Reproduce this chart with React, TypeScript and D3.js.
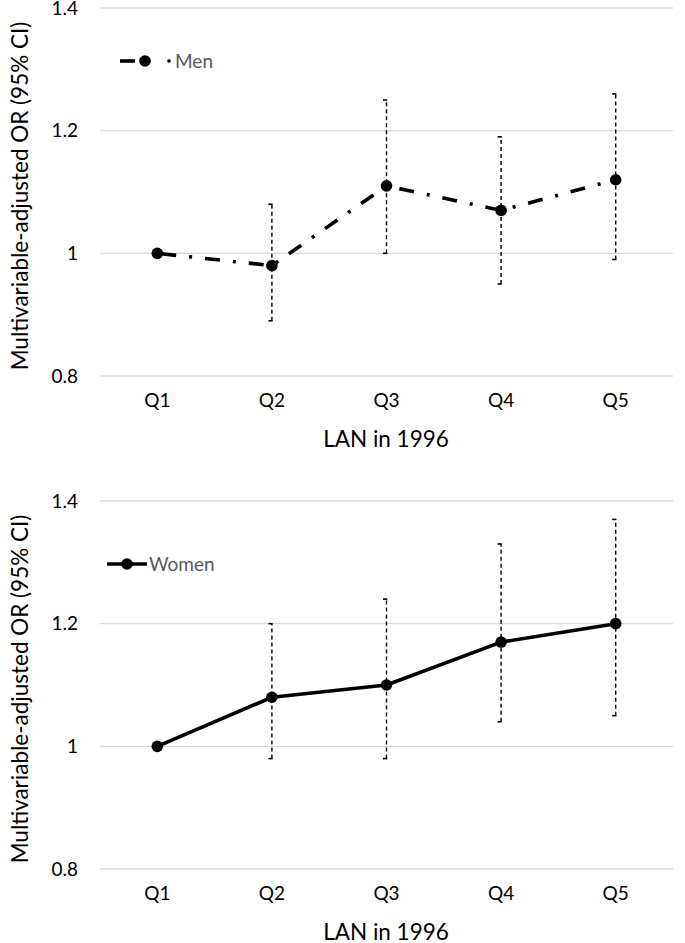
import { useEffect, useRef } from 'react'
import * as d3 from 'd3'

const quintiles = ['Q1', 'Q2', 'Q3', 'Q4', 'Q5']
const yTicks = [0.8, 1, 1.2, 1.4]

const menOR = [1.0, 0.98, 1.11, 1.07, 1.12]
const menLow = [null, 0.89, 1.0, 0.95, 0.99]
const menHigh = [null, 1.08, 1.25, 1.19, 1.26]

const womenOR = [1.0, 1.08, 1.1, 1.17, 1.2]
const womenLow = [null, 0.98, 0.98, 1.04, 1.05]
const womenHigh = [null, 1.2, 1.24, 1.33, 1.37]

const W = 685
const H = 943
const FONT = 'Lato, "Liberation Sans", sans-serif'

interface Panel {
  label: string
  or: number[]
  low: (number | null)[]
  high: (number | null)[]
  top: number
  bottom: number
  dash: string | null
  legendX: number
  legendY: number
}

const panels: Panel[] = [
  { label: 'Men', or: menOR, low: menLow, high: menHigh, top: 8, bottom: 376, dash: '15 13 3 13', legendX: 120, legendY: 61 },
  { label: 'Women', or: womenOR, low: womenLow, high: womenHigh, top: 501, bottom: 869, dash: null, legendX: 107, legendY: 564 }
]

export default function App() {
  const svgRef = useRef<SVGSVGElement>(null)

  useEffect(() => {
    if (!svgRef.current) return
    const svg = d3.select(svgRef.current)
    svg.selectAll('*').remove()

    const x = d3.scaleBand().domain(quintiles).range([100, 673])

    panels.forEach(p => {
      const y = d3.scaleLinear().domain([0.8, 1.4]).range([p.bottom, p.top])
      const g = svg.append('g')
      const cx = (q: string) => (x(q) || 0) + x.bandwidth() / 2

      // gridlines
      g.selectAll('.grid')
        .data(yTicks)
        .enter().append('line')
        .attr('x1', 100).attr('x2', 673)
        .attr('y1', d => y(d)).attr('y2', d => y(d))
        .attr('stroke', '#d9d9d9').attr('stroke-width', 1.3)

      // y tick labels
      g.selectAll('.ytick')
        .data(yTicks)
        .enter().append('text')
        .attr('x', 78).attr('y', d => y(d))
        .attr('dy', '0.35em')
        .attr('text-anchor', 'end')
        .attr('font-family', FONT).attr('font-size', 19)
        .attr('fill', '#000')
        .text(d => String(d))

      // x tick labels
      g.selectAll('.xtick')
        .data(quintiles)
        .enter().append('text')
        .attr('x', d => cx(d)).attr('y', p.bottom + 31)
        .attr('text-anchor', 'middle')
        .attr('font-family', FONT).attr('font-size', 19)
        .attr('fill', '#000')
        .text(d => d)

      // axis titles
      g.append('text')
        .attr('x', 386).attr('y', p.bottom + 71)
        .attr('text-anchor', 'middle')
        .attr('font-family', FONT).attr('font-size', 22.5)
        .attr('fill', '#000')
        .text('LAN in 1996')

      g.append('text')
        .attr('transform', `translate(28,${(p.top + p.bottom) / 2 + 4}) rotate(-90)`)
        .attr('text-anchor', 'middle')
        .attr('font-family', FONT).attr('font-size', 22.5)
        .attr('fill', '#000')
        .text('Multivariable-adjusted OR (95% CI)')

      // error bars
      const ci = quintiles.map((q, i) => ({ q, lo: p.low[i], hi: p.high[i] })).filter(d => d.lo != null)
      g.selectAll('.ci')
        .data(ci)
        .enter().append('line')
        .attr('x1', d => cx(d.q)).attr('x2', d => cx(d.q))
        .attr('y1', d => y(d.lo as number)).attr('y2', d => y(d.hi as number))
        .attr('stroke', '#000').attr('stroke-width', 1.4)
        .attr('stroke-dasharray', '4 3')
      ci.forEach(d => {
        [d.lo as number, d.hi as number].forEach(v => {
          g.append('line')
            .attr('x1', cx(d.q) - 3.5).attr('x2', cx(d.q) + 0.7)
            .attr('y1', y(v)).attr('y2', y(v))
            .attr('stroke', '#000').attr('stroke-width', 1.6)
        })
      })

      // line
      const line = d3.line<number>()
        .x((_, i) => cx(quintiles[i]))
        .y(d => y(d))
      const path = g.append('path')
        .datum(p.or)
        .attr('d', line)
        .attr('fill', 'none')
        .attr('stroke', '#000')
        .attr('stroke-width', 3.6)
        .attr('stroke-linejoin', 'round')
      if (p.dash) path.attr('stroke-dasharray', p.dash).attr('stroke-dashoffset', -4)

      // markers
      g.selectAll('.pt')
        .data(p.or)
        .enter().append('circle')
        .attr('cx', (_, i) => cx(quintiles[i]))
        .attr('cy', d => y(d))
        .attr('r', 5.8)
        .attr('fill', '#000')

      // legend
      const lg = g.append('g')
      if (p.dash) {
        lg.append('line')
          .attr('x1', p.legendX).attr('x2', p.legendX + 15)
          .attr('y1', p.legendY).attr('y2', p.legendY)
          .attr('stroke', '#000').attr('stroke-width', 3.6)
        lg.append('circle').attr('cx', p.legendX + 25).attr('cy', p.legendY).attr('r', 5.8).attr('fill', '#000')
        lg.append('circle').attr('cx', p.legendX + 49).attr('cy', p.legendY).attr('r', 1.8).attr('fill', '#000')
        lg.append('text')
          .attr('x', p.legendX + 55).attr('y', p.legendY).attr('dy', '0.35em')
          .attr('font-family', FONT).attr('font-size', 19).attr('fill', '#595959')
          .text(p.label)
      } else {
        lg.append('line')
          .attr('x1', p.legendX).attr('x2', p.legendX + 40)
          .attr('y1', p.legendY).attr('y2', p.legendY)
          .attr('stroke', '#000').attr('stroke-width', 3.6)
        lg.append('circle').attr('cx', p.legendX + 20).attr('cy', p.legendY).attr('r', 5.8).attr('fill', '#000')
        lg.append('text')
          .attr('x', p.legendX + 42).attr('y', p.legendY).attr('dy', '0.35em')
          .attr('font-family', FONT).attr('font-size', 19).attr('fill', '#595959')
          .text(p.label)
      }
    })
  }, [])

  return (
    <svg
      ref={svgRef}
      width={W}
      height={H}
      style={{ position: 'absolute', left: 0, top: 0, background: '#fff' }}
    />
  )
}
